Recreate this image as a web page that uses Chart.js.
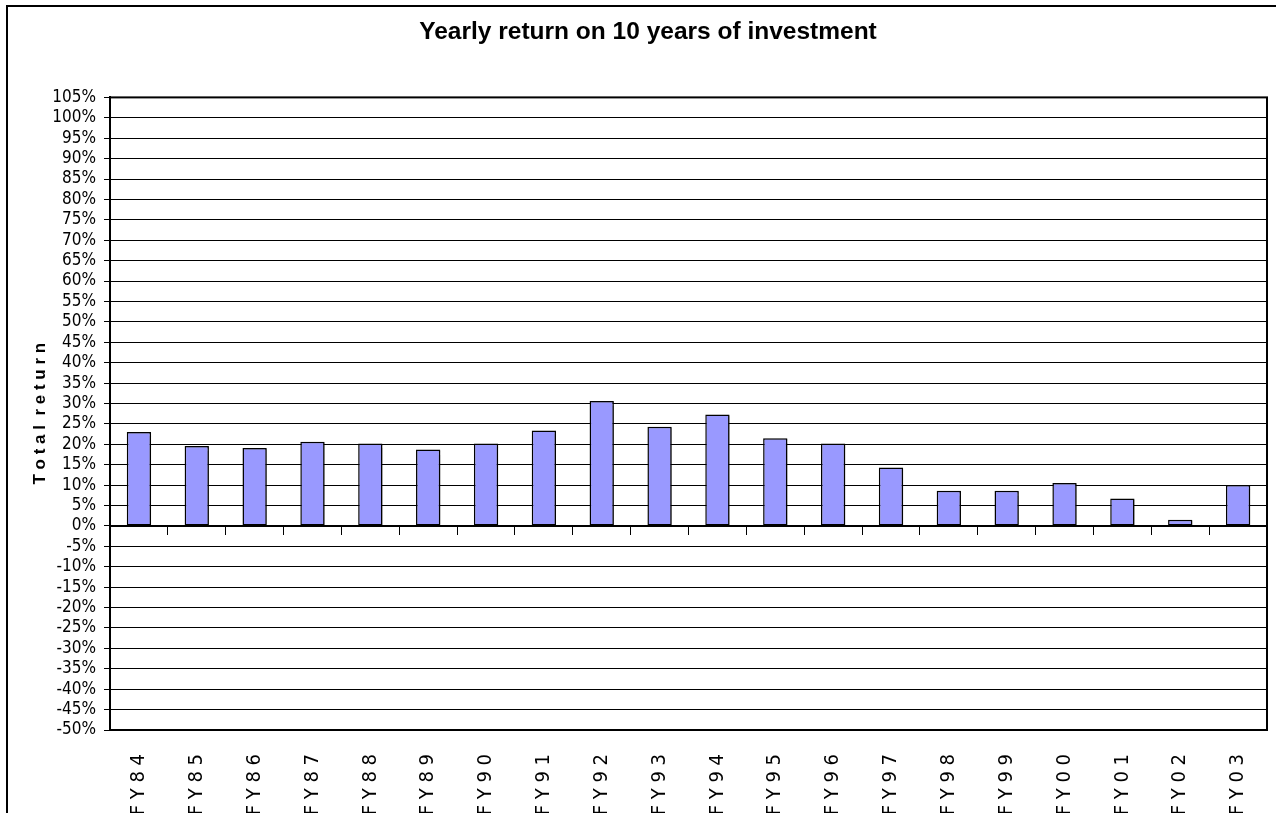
<!DOCTYPE html>
<html><head><meta charset="utf-8">
<script src="https://cdn.jsdelivr.net/npm/chart.js@4"></script>
<style>
html,body{margin:0;padding:0;overflow:hidden;background:#fff;width:1276px;height:813px;}
#frame{position:absolute;left:6px;top:5px;width:1400px;height:900px;border:2px solid #000;background:#fff;}
#wrap{position:absolute;left:0;top:0;width:1296px;height:830px;}
</style></head><body>
<div id="frame"></div>
<div id="wrap"><canvas id="c"></canvas></div>
<script>
const categories = ['FY84','FY85','FY86','FY87','FY88','FY89','FY90','FY91','FY92','FY93','FY94','FY95','FY96','FY97','FY98','FY99','FY00','FY01','FY02','FY03'];
const totalReturn = [23.0, 19.6, 19.1, 20.6, 20.2, 18.7, 20.2, 23.4, 30.6, 24.3, 27.3, 21.5, 20.2, 14.3, 8.6, 8.6, 10.5, 6.7, 1.5, 10.0];
const yMin = -50, yMax = 105, yStep = 5;
const chartTitle = 'Yearly return on 10 years of investment';
const yAxisTitle = 'Total return';

const spaced = s => s.split(' ').map(w => w.split('').join(' ')).join('  ');
const narrow = "'DejaVu Sans Condensed', 'Liberation Sans Narrow', 'Liberation Sans', Arial, sans-serif";

const framePlugin = {
  id: 'frameBox',
  afterDraw(chart) {
    const {ctx, chartArea: a} = chart;
    ctx.save();
    ctx.strokeStyle = '#000';
    ctx.lineWidth = 2;
    ctx.strokeRect(a.left, a.top, a.right - a.left, a.bottom - a.top);
    ctx.restore();
  }
};
const shadowPlugin = {
  id: 'barShadow',
  beforeDatasetsDraw(chart) {
    const ctx = chart.ctx;
    ctx.save();
    ctx.shadowColor = 'rgba(0,0,0,0.35)';
    ctx.shadowOffsetX = 2;
    ctx.shadowOffsetY = 1;
    ctx.shadowBlur = 1;
  },
  afterDatasetsDraw(chart) { chart.ctx.restore(); }
};

new Chart(document.getElementById('c'), {
  type: 'bar',
  data: {
    labels: categories,
    datasets: [{
      label: yAxisTitle,
      data: totalReturn,
      backgroundColor: '#9999FF',
      borderColor: '#000',
      borderWidth: 1.5,
      borderSkipped: false,
      categoryPercentage: 1,
      barPercentage: 0.42
    }]
  },
  options: {
    responsive: true,
    maintainAspectRatio: false,
    animation: false,
    layout: {padding: {left: 29, right: 29, top: 0, bottom: 0}},
    plugins: {
      legend: {display: false},
      tooltip: {enabled: false},
      title: {
        display: true,
        text: chartTitle,
        color: '#000',
        font: {family: "'Liberation Sans', Arial, sans-serif", weight: 'bold', size: 24.5},
        padding: {top: 18, bottom: 50}
      }
    },
    scales: {
      x: {
        type: 'category',
        position: 'bottom',
        offset: true,
        grid: {display: false, drawTicks: false},
        border: {display: false},
        ticks: {
          autoSkip: false,
          minRotation: 90,
          maxRotation: 90,
          padding: 24,
          color: '#000',
          font: {family: narrow, size: 20},
          callback(v) { return spaced(this.getLabelForValue(v)); }
        },
        afterFit(scale) { scale.height = 100; }
      },
      x0: {
        type: 'category',
        position: {y: 0},
        offset: true,
        grid: {display: true, offset: true, drawOnChartArea: false, drawTicks: true, tickLength: 8, color: '#000', lineWidth: 1},
        border: {display: true, color: '#000', width: 2},
        ticks: {display: false}
      },
      y: {
        min: yMin,
        max: yMax,
        position: 'left',
        grid: {color: '#000', lineWidth: 1, drawTicks: true, tickLength: 6},
        border: {display: true, color: '#000', width: 2},
        ticks: {
          stepSize: yStep,
          autoSkip: false,
          padding: 8,
          color: '#000',
          font: {family: narrow, size: 17},
          callback: v => v + '%'
        },
        title: {
          display: true,
          text: spaced(yAxisTitle),
          color: '#000',
          font: {family: "'Liberation Sans', Arial, sans-serif", weight: 'bold', size: 17},
          padding: {top: 1, bottom: 0}
        },
        afterFit(scale) { scale.width = 81; }
      }
    }
  },
  plugins: [shadowPlugin, framePlugin]
});
</script>
</body></html>
